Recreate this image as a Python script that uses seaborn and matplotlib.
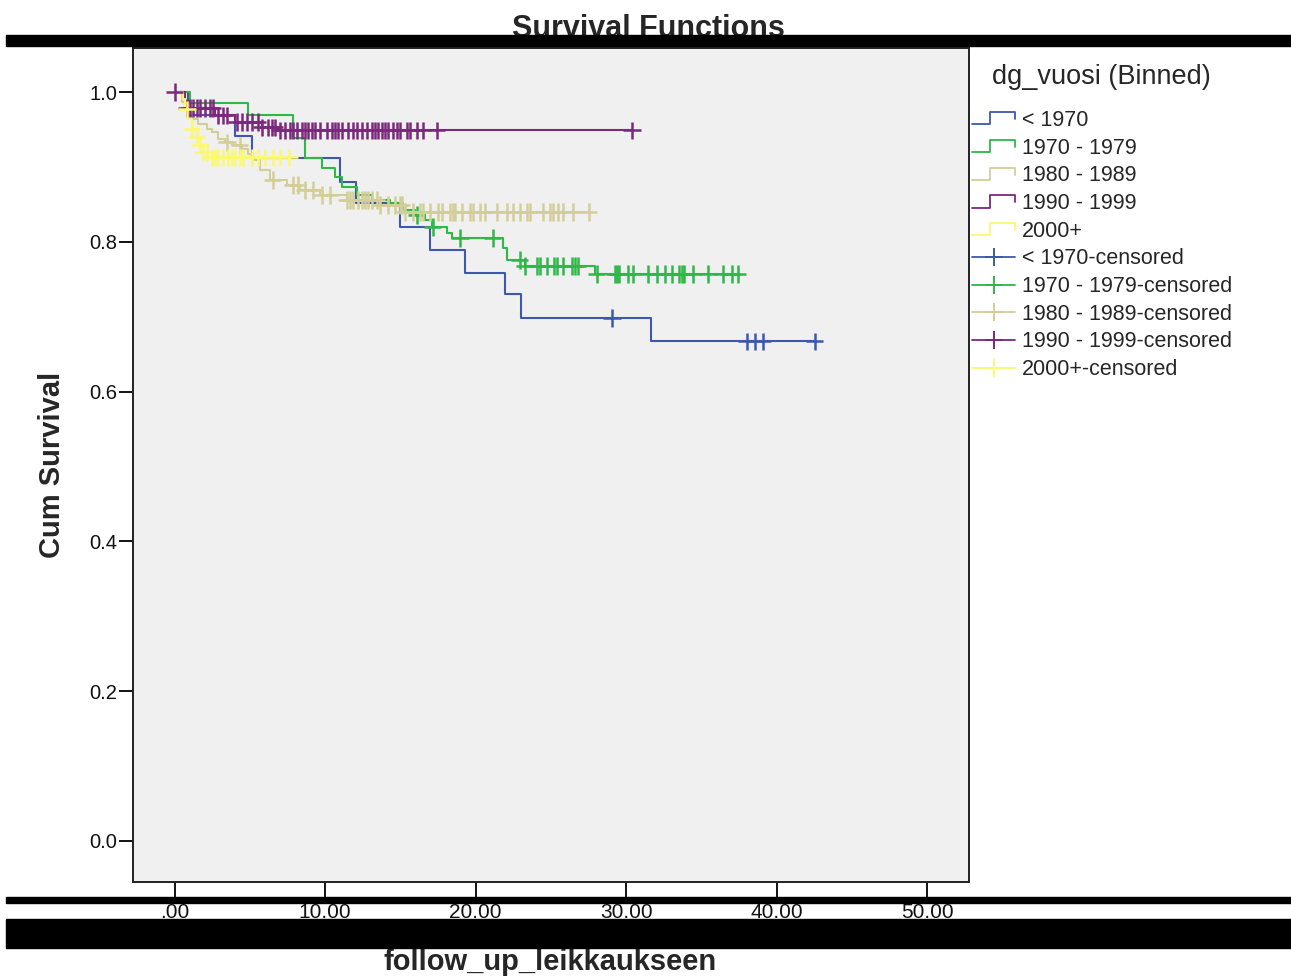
import numpy as np
import pandas as pd
import seaborn as sns
import matplotlib.pyplot as plt
from matplotlib.lines import Line2D
from matplotlib.patches import Rectangle
from matplotlib.legend_handler import HandlerBase

# groups of dg_vuosi (Binned) and SPSS default colours
groups = ['< 1970', '1970 - 1979', '1980 - 1989', '1990 - 1999', '2000+']
colors = ['#3E58AC', '#2EB848', '#D3CE97', '#7C287D', '#FBF873']

# step times and cumulative survival after each step
lt1970_time = [0, 0.86, 3.99, 5.12, 10.96, 12.03, 14.95, 16.94, 19.27, 21.93, 22.99, 31.63]
lt1970_surv = [1.0, 0.970, 0.941, 0.912, 0.880, 0.852, 0.820, 0.789, 0.759, 0.730, 0.698, 0.667]
lt1970_cens = [29.04, 38.00, 38.54, 39.07, 42.52]

s1970_time = [0, 1.00, 4.85, 7.84, 8.64, 9.77, 10.63, 11.10, 12.09, 13.09, 14.29, 15.15,
              15.95, 16.61, 17.08, 18.07, 18.41, 21.79, 22.06, 23.26, 27.91]
s1970_surv = [1.0, 0.985, 0.969, 0.939, 0.912, 0.899, 0.887, 0.873, 0.863, 0.856, 0.852, 0.843,
              0.836, 0.829, 0.820, 0.812, 0.805, 0.792, 0.776, 0.768, 0.757]
s1970_cens = [16.08, 17.14, 18.94, 21.13, 22.92, 23.26, 24.05, 24.25, 24.72, 25.18, 25.38,
              25.78, 26.38, 26.58, 26.78, 28.04, 29.24, 29.37, 29.50, 30.10, 30.43, 31.43,
              32.03, 32.56, 33.02, 33.49, 33.69, 33.82, 34.42, 35.42, 36.41, 37.01, 37.41]

s1980_time = [0, 0.47, 0.80, 1.20, 1.53, 2.13, 2.46, 2.86, 3.32, 3.79, 4.45, 4.85, 5.18,
              5.65, 6.31, 7.44, 8.31, 9.63, 11.43, 13.62, 15.28]
s1980_surv = [1.0, 0.987, 0.971, 0.964, 0.957, 0.951, 0.947, 0.937, 0.933, 0.929, 0.924,
              0.917, 0.909, 0.896, 0.883, 0.876, 0.869, 0.863, 0.856, 0.849, 0.840]
s1980_cens = [3.46, 4.32, 6.51, 7.84, 8.17, 8.64, 9.17, 9.77, 10.30, 11.43, 11.63, 11.83,
              12.16, 12.43, 12.62, 12.82, 13.09, 13.42, 13.62, 14.15, 14.62, 14.95, 15.08,
              15.28, 15.81, 16.28, 16.48, 16.94, 17.48, 17.74, 18.27, 18.47, 18.60, 19.07,
              19.60, 19.80, 20.27, 20.60, 21.40, 22.06, 22.46, 22.92, 23.39, 23.59, 24.45,
              24.92, 25.12, 25.45, 25.78, 26.45, 27.50]

s1990_time = [0, 0.66, 2.66, 3.99, 5.78, 6.84]
s1990_surv = [1.0, 0.979, 0.969, 0.960, 0.953, 0.949]
s1990_cens = [0.0, 0.80, 1.00, 1.20, 1.46, 1.66, 1.99, 2.33, 2.52, 2.86, 3.19, 3.46, 4.12,
              4.45, 4.78, 5.12, 5.51, 5.78, 6.18, 6.45, 6.64, 6.98, 7.31, 7.64, 7.84, 8.11,
              8.44, 8.64, 8.84, 9.10, 9.30, 9.63, 10.10, 10.43, 10.63, 10.83, 11.10, 11.50,
              11.83, 12.09, 12.43, 12.76, 13.09, 13.29, 13.49, 13.75, 13.95, 14.15, 14.49,
              14.75, 14.95, 15.42, 15.61, 16.08, 16.48, 17.41, 30.37]

s2000_time = [0, 0.53, 0.66, 0.86, 1.13, 1.46, 1.66, 1.86, 2.19]
s2000_surv = [1.0, 0.991, 0.977, 0.964, 0.951, 0.940, 0.929, 0.920, 0.913]
s2000_cens = [0.80, 1.13, 1.46, 1.66, 1.86, 2.13, 2.46, 2.66, 2.86, 3.19, 3.52, 3.79, 3.99,
              4.32, 4.52, 5.12, 5.51, 5.98, 6.51, 6.98, 7.60]

series = [
    (lt1970_time, lt1970_surv, lt1970_cens),
    (s1970_time, s1970_surv, s1970_cens),
    (s1980_time, s1980_surv, s1980_cens),
    (s1990_time, s1990_surv, s1990_cens),
    (s2000_time, s2000_surv, s2000_cens),
]

# build long tables: step lines and censored marks
step_rows, cens_rows = [], []
for g, (t, s, c) in zip(groups, series):
    end = max(t[-1], max(c))
    for ti, si in zip(list(t) + [end], list(s) + [s[-1]]):
        step_rows.append((g, ti, si))
    t_arr = np.asarray(t)
    for ci in c:
        idx = np.searchsorted(t_arr, ci, side='right') - 1
        cens_rows.append((g, ci, s[idx]))
steps = pd.DataFrame(step_rows, columns=['group', 'time', 'surv'])
cens = pd.DataFrame(cens_rows, columns=['group', 'time', 'surv'])
pal = dict(zip(groups, colors))

sns.set_style('ticks')
plt.rcParams['font.family'] = ['Liberation Sans', 'DejaVu Sans']

W, H = 1291, 976
fig = plt.figure(figsize=(W / 100, H / 100), dpi=100)
ax = fig.add_axes([133 / W, 1 - 882 / H, (969 - 133) / W, (882 - 48) / H])
ax.set_facecolor('#F0F0F0')

sns.lineplot(data=steps, x='time', y='surv', hue='group', hue_order=groups,
             palette=pal, estimator=None, sort=False, drawstyle='steps-post',
             lw=1.5, legend=False, ax=ax)
sns.scatterplot(data=cens, x='time', y='surv', hue='group', hue_order=groups,
                palette=pal, marker='+', s=160, linewidth=1.8, legend=False,
                ax=ax, zorder=3)

ax.set_xlim(-2.77, 52.78)
ax.set_ylim(-0.055, 1.059)
ax.set_xticks(np.arange(0, 51, 10))
ax.set_xticklabels(['.00'] + [f'{v:.2f}' for v in range(10, 51, 10)])
ax.set_yticks(np.arange(0, 1.01, 0.2))
ax.set_yticklabels([f'{v:.1f}' for v in np.arange(0, 1.01, 0.2)])
ax.tick_params(axis='x', length=11, width=1.4, pad=4, labelsize=15, colors='#111111')
ax.tick_params(axis='y', length=10, width=1.4, pad=1.5, labelsize=14.5, colors='#111111')
ax.set_xlabel('')
ax.set_ylabel('')
for sp in ax.spines.values():
    sp.set_visible(True)
    sp.set_linewidth(1.4)
    sp.set_color('#222222')

# titles
fig.text(648 / W, 1 - 37 / H, 'Survival Functions', ha='center', va='baseline',
         fontsize=22, fontweight='bold')
fig.text(52 / W, 1 - 465 / H, 'Cum Survival', ha='center', va='center',
         rotation=90, fontsize=21, fontweight='bold')
fig.text(550 / W, 1 - 962 / H, 'follow_up_leikkaukseen', ha='center', va='center',
         fontsize=21, fontweight='bold')
fig.text(1101 / W, 1 - 77 / H, 'dg_vuosi (Binned)', ha='center', va='center',
         fontsize=19.5)

# black bars of the scanned output
for y0, y1 in [(35, 46), (897, 903), (919, 948)]:
    fig.patches.append(Rectangle((6 / W, 1 - y1 / H), 1 - 6 / W, (y1 - y0) / H,
                                 transform=fig.transFigure, color='black',
                                 zorder=10))


class StepHandler(HandlerBase):
    def create_artists(self, legend, orig_handle, xdescent, ydescent,
                       width, height, fontsize, trans):
        x0, y0 = -xdescent, -ydescent
        xs = [x0, x0 + 0.42 * width, x0 + 0.42 * width, x0 + width, x0 + width]
        ys = [y0 + 0.1 * height, y0 + 0.1 * height, y0 + 0.9 * height,
              y0 + 0.9 * height, y0 + 0.45 * height]
        return [Line2D(xs, ys, color=orig_handle.get_color(), lw=1.3, transform=trans)]


step_handles = [Line2D([], [], color=c) for c in colors]
cens_handles = [Line2D([], [], color=c, marker='+', markersize=13,
                       markeredgewidth=1.4, lw=1.3) for c in colors]
labels = groups + [g + '-censored' for g in groups]
fig.legend(step_handles + cens_handles, labels,
           handler_map={h: StepHandler() for h in step_handles},
           loc='upper left', bbox_to_anchor=(972 / W, 1 - 110 / H), frameon=False,
           fontsize=15.5, handlelength=2.0, handletextpad=0.3, labelspacing=0.31,
           borderpad=0, borderaxespad=0)

fig.savefig('out.png', dpi=100)
